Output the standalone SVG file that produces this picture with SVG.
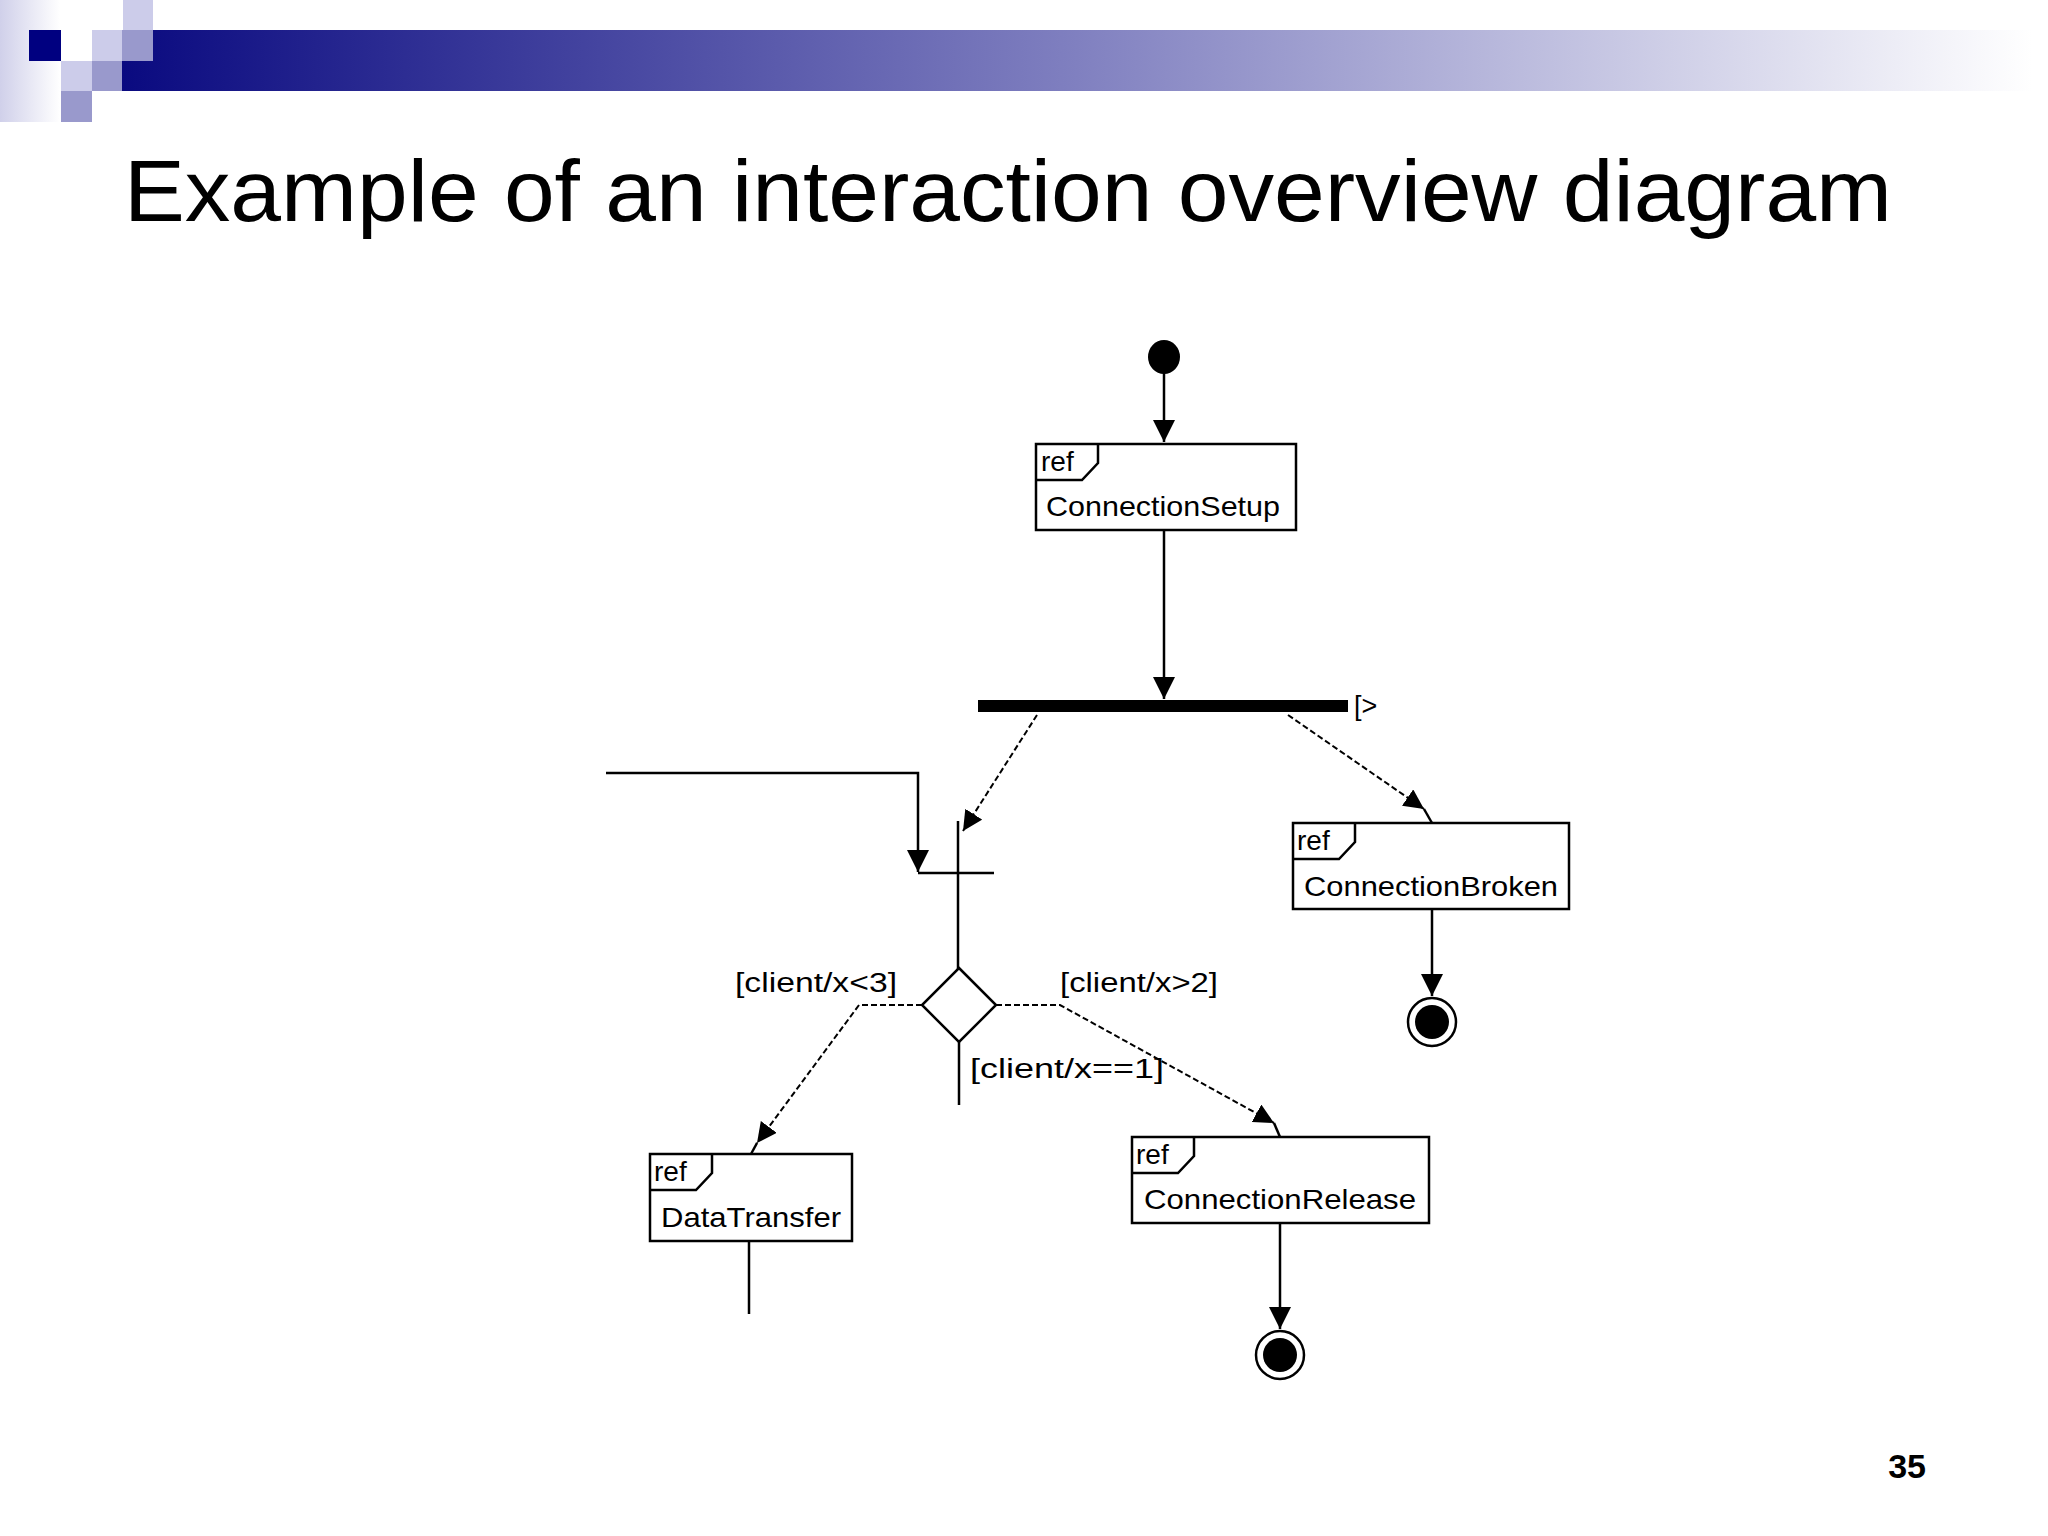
<svg xmlns="http://www.w3.org/2000/svg" width="2048" height="1536" viewBox="0 0 2048 1536">
<defs>
<linearGradient id="band" x1="0" y1="0" x2="1" y2="0">
<stop offset="0" stop-color="#0a0a80"/>
<stop offset="0.5" stop-color="#8080c0"/>
<stop offset="1" stop-color="#ffffff"/>
</linearGradient>
<linearGradient id="side" x1="0" y1="0" x2="1" y2="0">
<stop offset="0" stop-color="#d0d0ea"/>
<stop offset="1" stop-color="#ffffff"/>
</linearGradient>
<marker id="ah" viewBox="0 0 10 10" refX="10" refY="5" markerWidth="22" markerHeight="22" markerUnits="userSpaceOnUse" orient="auto">
<path d="M0,0 L10,5 L0,10 z" fill="#000"/>
</marker>
<marker id="ahd" viewBox="0 0 10 10" refX="10" refY="5" markerWidth="20" markerHeight="20" markerUnits="userSpaceOnUse" orient="auto">
<path d="M0,0 L10,5 L0,10 z" fill="#000"/>
</marker>
</defs>
<style>
.ln{stroke:#000;stroke-width:2.5;fill:none}
.ds{stroke:#000;stroke-width:2;fill:none;stroke-dasharray:6 3}
.box{fill:#fff;stroke:#000;stroke-width:2.5}
.t{font-family:"Liberation Sans",Arial,sans-serif;font-size:28px;fill:#000}
.lbl{font-family:"Liberation Sans",Arial,sans-serif;font-size:27px;fill:#000}
</style>
<rect width="2048" height="1536" fill="#fff"/>
<rect x="0" y="0" width="60" height="122" fill="url(#side)"/>
<rect x="122" y="30" width="1910" height="61" fill="url(#band)"/>
<rect x="29" y="30" width="32" height="31" fill="#000080"/>
<rect x="123" y="0" width="30" height="30" fill="#ccccea"/>
<rect x="92" y="30" width="30" height="31" fill="#ccccea"/>
<rect x="122" y="30" width="31" height="31" fill="#9999cc"/>
<rect x="61" y="61" width="31" height="30" fill="#ccccea"/>
<rect x="92" y="61" width="30" height="30" fill="#9999cc"/>
<rect x="61" y="91" width="31" height="31" fill="#9999cc"/>
<text x="124" y="221" font-family="Liberation Sans, Arial, sans-serif" font-size="88" textLength="1768" lengthAdjust="spacingAndGlyphs">Example of an interaction overview diagram</text>
<text x="1926" y="1478" text-anchor="end" font-family="Liberation Sans, Arial, sans-serif" font-size="34" font-weight="bold">35</text>

<g transform="translate(-12,-7)">
<g id="connectors">
<line class="ln" x1="1176" y1="378" x2="1176" y2="449" marker-end="url(#ah)"/>
<line class="ln" x1="1176" y1="537" x2="1176" y2="706" marker-end="url(#ah)"/>
<line class="ds" x1="1049" y1="722" x2="975" y2="838" marker-end="url(#ahd)"/>
<line class="ds" x1="1300" y1="722" x2="1436" y2="816" marker-end="url(#ahd)"/>
<line class="ln" x1="1436" y1="816" x2="1444" y2="830"/>
<polyline class="ln" points="618,780 930,780 930,879" marker-end="url(#ah)"/>
<line class="ln" x1="930" y1="880" x2="1006" y2="880"/>
<line class="ln" x1="970" y1="828" x2="970" y2="977"/>
<polyline class="ds" points="934,1012 871,1012 769,1150" marker-end="url(#ahd)"/>
<polyline class="ds" points="1008,1012 1072,1012 1286,1130" marker-end="url(#ahd)"/>
<line class="ln" x1="1286" y1="1130" x2="1292" y2="1144"/>
<line class="ln" x1="769" y1="1150" x2="763" y2="1161"/>
<line class="ln" x1="971" y1="1049" x2="971" y2="1112"/>
<line class="ln" x1="761" y1="1248" x2="761" y2="1321"/>
<line class="ln" x1="1444" y1="916" x2="1444" y2="1003" marker-end="url(#ah)"/>
<line class="ln" x1="1292" y1="1230" x2="1292" y2="1336" marker-end="url(#ah)"/>
</g>

<g id="start"><ellipse cx="1176" cy="364" rx="16" ry="17" fill="#000"/></g>

<g id="connectionSetup">
<rect class="box" x="1048" y="451" width="260" height="86"/>
<path class="ln" d="M1048,487 H1094 L1110,470 V451"/>
<text class="t" x="1053" y="478" font-size="24">ref</text>
<text class="t" x="1058" y="523" textLength="234" lengthAdjust="spacingAndGlyphs">ConnectionSetup</text>
</g>

<g id="fork">
<rect x="990" y="707" width="370" height="12" fill="#000"/>
<text class="lbl" x="1366" y="722">[&gt;</text>
</g>

<g id="decision">
<polygon class="ln" points="971,975 1008,1012 971,1049 934,1012" fill="#fff"/>
<text class="lbl" x="747" y="999" textLength="162" lengthAdjust="spacingAndGlyphs">[client/x&lt;3]</text>
<text class="lbl" x="1072" y="999" textLength="158" lengthAdjust="spacingAndGlyphs">[client/x&gt;2]</text>
<text class="lbl" x="982" y="1085" textLength="194" lengthAdjust="spacingAndGlyphs">[client/x==1]</text>
</g>

<g id="connectionBroken">
<rect class="box" x="1305" y="830" width="276" height="86"/>
<path class="ln" d="M1305,866 H1351 L1367,849 V830"/>
<text class="t" x="1309" y="857" font-size="24">ref</text>
<text class="t" x="1316" y="903" textLength="254" lengthAdjust="spacingAndGlyphs">ConnectionBroken</text>
</g>

<g id="dataTransfer">
<rect class="box" x="662" y="1161" width="202" height="87"/>
<path class="ln" d="M662,1197 H708 L724,1180 V1161"/>
<text class="t" x="666" y="1188" font-size="24">ref</text>
<text class="t" x="673" y="1234" textLength="180" lengthAdjust="spacingAndGlyphs">DataTransfer</text>
</g>

<g id="connectionRelease">
<rect class="box" x="1144" y="1144" width="297" height="86"/>
<path class="ln" d="M1144,1180 H1190 L1206,1163 V1144"/>
<text class="t" x="1148" y="1171" font-size="24">ref</text>
<text class="t" x="1156" y="1216" textLength="272" lengthAdjust="spacingAndGlyphs">ConnectionRelease</text>
</g>

<g id="end1"><circle cx="1444" cy="1029" r="24" fill="#fff" stroke="#000" stroke-width="2.5"/><circle cx="1444" cy="1029" r="17" fill="#000"/></g>
<g id="end2"><circle cx="1292" cy="1362" r="24" fill="#fff" stroke="#000" stroke-width="2.5"/><circle cx="1292" cy="1362" r="17" fill="#000"/></g>
</g>
</svg>
